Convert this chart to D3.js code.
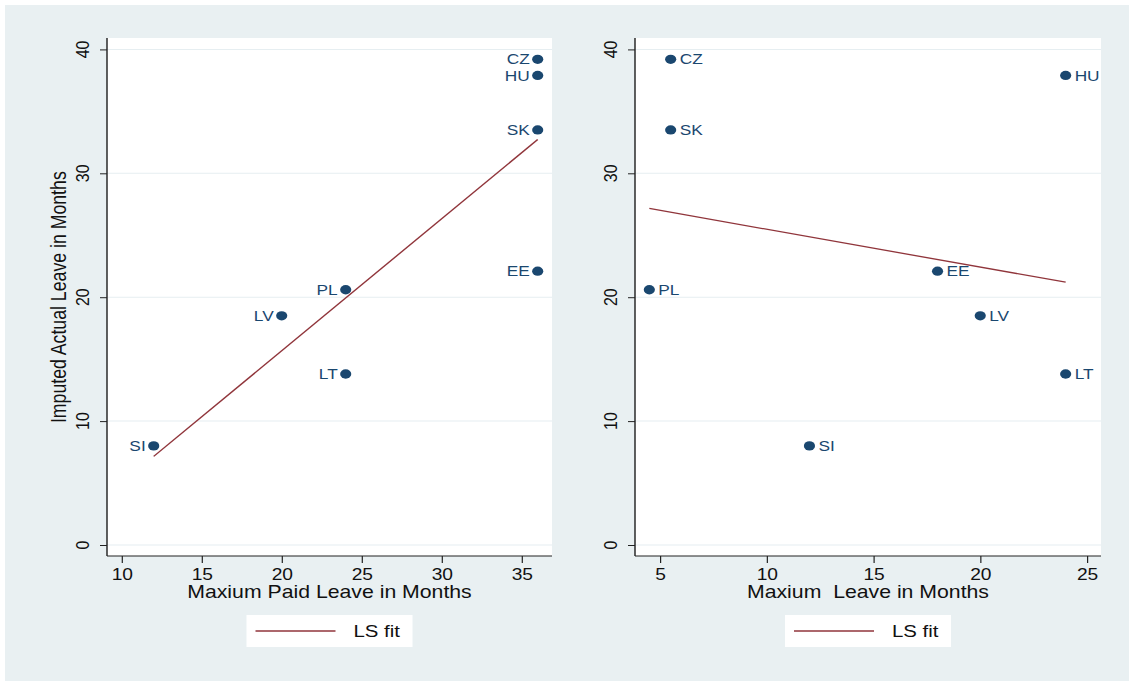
<!DOCTYPE html>
<html>
<head>
<meta charset="utf-8">
<script src="https://cdn.jsdelivr.net/npm/d3@7"></script>
<style>
  body { margin: 0; background: #fff; }
  svg { display: block; }
</style>
</head>
<body>
<svg id="chart"></svg>
<script>
// data
const countries   = ["CZ", "HU", "SK", "EE", "PL", "LV", "LT", "SI"];
const maxPaidLeave = [36, 36, 36, 36, 24, 20, 24, 12];
const maxLeave     = [5.5, 24, 5.5, 18, 4.5, 20, 24, 12];
const actualLeave  = [39.2, 37.9, 33.5, 22.1, 20.6, 18.5, 13.8, 8.0];

// LS fit line end points
const fitLeftX  = [12, 36];
const fitLeftY  = [7.15, 32.73];
const fitRightX = [4.5, 24];
const fitRightY = [27.16, 21.21];

const yTicks      = [0, 10, 20, 30, 40];
const xTicksLeft  = [10, 15, 20, 25, 30, 35];
const xTicksRight = [5, 10, 15, 20, 25];

const W = 1129, H = 681;
const SX = 1.2;               // the graph is stretched sideways
const W0 = W / SX;
const nx = px => px / SX;

const font = "'Liberation Sans', Arial, sans-serif";
const navy = "#1a476f";
const maroon = "#90353b";

const svg = d3.select("#chart")
  .attr("width", W)
  .attr("height", H)
  .attr("viewBox", `0 0 ${W0} ${H}`)
  .attr("preserveAspectRatio", "none");

// graph region
svg.append("rect")
  .attr("x", nx(5)).attr("y", 5)
  .attr("width", W0 - nx(5)).attr("height", H - 5)
  .attr("fill", "#e9f0f2");

const y = d3.scaleLinear().domain([0, 40]).range([545, 49.4]);
const plotTop = 38, plotBottom = 556;

const panels = [
  {
    xs: maxPaidLeave, ticks: xTicksLeft, domain: [10, 35], range: [121.7, 521.7],
    left: 107, right: 552, title: "Maxium Paid Leave in Months",
    side: "left", fx: fitLeftX, fy: fitLeftY, yTitle: true
  },
  {
    xs: maxLeave, ticks: xTicksRight, domain: [5, 25], range: [660, 1087],
    left: 635, right: 1101, title: "Maxium\u00a0 Leave in Months",
    side: "right", fx: fitRightX, fy: fitRightY, yTitle: false
  }
];

panels.forEach(p => {
  const x = d3.scaleLinear().domain(p.domain).range(p.range.map(nx));
  const g = svg.append("g");
  const L = nx(p.left), R = nx(p.right);

  g.append("rect")
    .attr("x", L).attr("y", plotTop)
    .attr("width", R - L).attr("height", plotBottom - plotTop)
    .attr("fill", "#fff");

  // grid lines
  g.selectAll("line.grid")
    .data(yTicks)
    .enter()
    .append("line")
    .attr("x1", L).attr("x2", R)
    .attr("y1", d => y(d)).attr("y2", d => y(d))
    .attr("stroke", "#e6eef1")
    .attr("stroke-width", 1);

  // y axis
  const yAxis = g.append("g")
    .attr("transform", `translate(${L},0)`)
    .call(d3.axisLeft(y).tickValues(yTicks).tickSize(nx(7)).tickSizeOuter(0));
  yAxis.select(".domain").remove();
  yAxis.selectAll(".tick line").attr("stroke", "#222");
  yAxis.selectAll(".tick text").remove();
  g.append("line")
    .attr("x1", L).attr("x2", L).attr("y1", plotTop).attr("y2", plotBottom)
    .attr("stroke", "#222").attr("stroke-width", 1.2);

  g.selectAll("text.ytick")
    .data(yTicks)
    .enter()
    .append("text")
    .attr("transform", d => `translate(${L - nx(18)},${y(d)}) rotate(-90)`)
    .attr("text-anchor", "middle")
    .style("font-family", font)
    .style("font-size", "16px")
    .attr("fill", "#111")
    .text(d => d);

  // x axis
  const xAxis = g.append("g")
    .attr("transform", `translate(0,${plotBottom})`)
    .call(d3.axisBottom(x).tickValues(p.ticks).tickSize(7).tickSizeOuter(0));
  xAxis.select(".domain").remove();
  xAxis.selectAll(".tick line").attr("stroke", "#222");
  xAxis.selectAll(".tick text")
    .attr("y", 24)
    .attr("dy", 0)
    .style("font-family", font)
    .style("font-size", "16px")
    .attr("fill", "#111");
  g.append("line")
    .attr("x1", L).attr("x2", R).attr("y1", plotBottom).attr("y2", plotBottom)
    .attr("stroke", "#222").attr("stroke-width", 1.2);

  g.append("text")
    .attr("x", (L + R) / 2)
    .attr("y", 598)
    .attr("text-anchor", "middle")
    .style("font-family", font)
    .style("font-size", "17.7px")
    .attr("fill", "#111")
    .text(p.title);

  if (p.yTitle) {
    g.append("text")
      .attr("transform", `translate(${nx(66)},${y(20)}) rotate(-90)`)
      .attr("text-anchor", "middle")
      .style("font-family", font)
      .style("font-size", "17.7px")
      .attr("fill", "#111")
      .text("Imputed Actual Leave in Months");
  }

  // fit line
  g.append("line")
    .attr("x1", x(p.fx[0])).attr("y1", y(p.fy[0]))
    .attr("x2", x(p.fx[1])).attr("y2", y(p.fy[1]))
    .attr("stroke", maroon)
    .attr("stroke-width", 1.3);

  // points
  const pts = countries.map((c, i) => ({ c, xv: p.xs[i], yv: actualLeave[i] }));
  g.selectAll("circle")
    .data(pts)
    .enter()
    .append("circle")
    .attr("cx", d => x(d.xv))
    .attr("cy", d => y(d.yv))
    .attr("r", 4.65)
    .attr("fill", navy);

  g.selectAll("text.lab")
    .data(pts)
    .enter()
    .append("text")
    .attr("x", d => x(d.xv) + (p.side === "left" ? -nx(8) : nx(9)))
    .attr("y", d => y(d.yv))
    .attr("dy", "0.36em")
    .attr("text-anchor", p.side === "left" ? "end" : "start")
    .style("font-family", font)
    .style("font-size", "14.4px")
    .attr("fill", navy)
    .text(d => d.c);

  // legend
  const lg = g.append("g");
  const cx = (L + R) / 2;
  lg.append("rect")
    .attr("x", cx - nx(83)).attr("y", 615)
    .attr("width", nx(166)).attr("height", 32)
    .attr("fill", "#fff");
  lg.append("line")
    .attr("x1", cx - nx(74)).attr("x2", cx + nx(6))
    .attr("y1", 631).attr("y2", 631)
    .attr("stroke", maroon)
    .attr("stroke-width", 1.3);
  lg.append("text")
    .attr("x", cx + nx(24))
    .attr("y", 637)
    .style("font-family", font)
    .style("font-size", "17px")
    .attr("fill", "#111")
    .text("LS fit");
});
</script>
</body>
</html>
